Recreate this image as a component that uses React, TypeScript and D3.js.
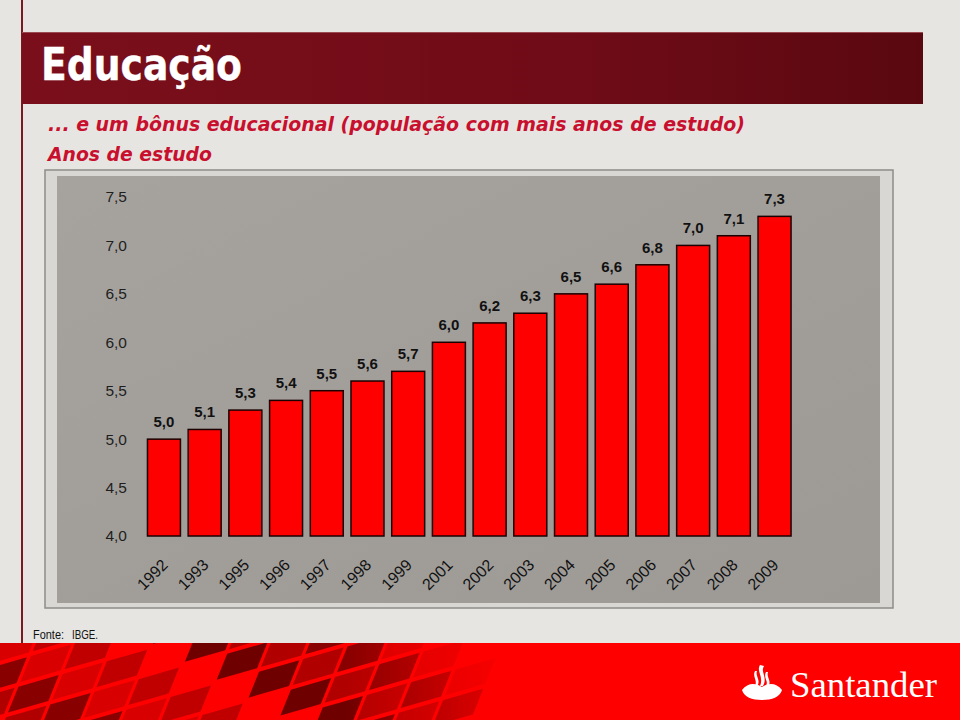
import React from "react";
import * as d3 from "d3";

const years = ["1992","1993","1995","1996","1997","1998","1999","2001","2002","2003","2004","2005","2006","2007","2008","2009"];
const values = [5.0,5.1,5.3,5.4,5.5,5.6,5.7,6.0,6.2,6.3,6.5,6.6,6.8,7.0,7.1,7.3];
const yTicks = [4.0,4.5,5.0,5.5,6.0,6.5,7.0,7.5];

const fmt = (v: number) => v.toFixed(1).replace(".", ",");

// decorative footer tile shades
const tileShades = ["#6e0000","#a00000","#c00000","#d80000","#880000","#b00000"];

export default function App() {
  const W = 960, H = 720;
  const x = d3.scaleBand<string>().domain(years).range([143.6, 794.9]).paddingInner(0.19).paddingOuter(0.095);
  const y = d3.scaleLinear().domain([4, 7.5]).range([536, 197]);

  const tiles: JSX.Element[] = [];
  for (let r = -2; r < 6; r++) {
    for (let c = -2; c < 14; c++) {
      const k = ((r * 7 + c * 5) % 6 + 6) % 6;
      if (((r * 3 + c * 2) % 5 + 5) % 5 === 0) continue;
      tiles.push(
        <rect key={`t${r}_${c}`} x={c * 46} y={r * 26} width={42} height={22} fill={tileShades[k]} />
      );
    }
  }

  return (
    <svg width={W} height={H} style={{ position: "absolute", left: 0, top: 0 }} fontFamily="Liberation Sans, Arial, sans-serif">
      <defs>
        <linearGradient id="bandG" x1="0" x2="1" y1="0" y2="0">
          <stop offset="0" stopColor="#7a0f1b" />
          <stop offset="0.6" stopColor="#700c17" />
          <stop offset="1" stopColor="#5a0810" />
        </linearGradient>
        <linearGradient id="panelG" x1="0" x2="1" y1="0" y2="1">
          <stop offset="0" stopColor="#a6a39f" />
          <stop offset="1" stopColor="#9d9a96" />
        </linearGradient>
        <linearGradient id="fadeG" x1="0" x2="1" y1="0" y2="0">
          <stop offset="0" stopColor="white" />
          <stop offset="0.36" stopColor="white" />
          <stop offset="0.5" stopColor="#555" />
          <stop offset="0.55" stopColor="black" />
          <stop offset="1" stopColor="black" />
        </linearGradient>
        <mask id="fadeM">
          <rect x={0} y={643} width={W} height={77} fill="url(#fadeG)" />
        </mask>
        <clipPath id="footClip">
          <rect x={0} y={643} width={W} height={77} />
        </clipPath>
      </defs>

      {/* page background */}
      <rect x={0} y={0} width={W} height={H} fill="#e7e5e2" />
      <line x1={22} x2={22} y1={0} y2={643} stroke="#7a1a1f" strokeWidth={2} />

      {/* title band */}
      <rect x={22} y={32} width={901} height={72} fill="url(#bandG)" />
      <line x1={22} x2={923} y1={32.5} y2={32.5} stroke="#9a4a50" strokeWidth={1} />
      <text x={41} y={80} fill="#ffffff" fontSize={44} fontWeight="bold" textLength={201} lengthAdjust="spacingAndGlyphs"
        fontFamily="DejaVu Sans, sans-serif" stroke="#ffffff" strokeWidth={0.4}>Educação</text>

      {/* subtitles */}
      <text x={48} y={131} fill="#c8102e" fontSize={19} fontWeight="bold" fontStyle="italic" textLength={697} lengthAdjust="spacingAndGlyphs"
        fontFamily="DejaVu Sans, sans-serif">... e um bônus educacional (população com mais anos de estudo)</text>
      <text x={48} y={161} fill="#c8102e" fontSize={19} fontWeight="bold" fontStyle="italic" textLength={164} lengthAdjust="spacingAndGlyphs"
        fontFamily="DejaVu Sans, sans-serif">Anos de estudo</text>

      {/* chart panel */}
      <rect x={45} y={170} width={848} height={438} fill="#d9d7d4" stroke="#8e8c89" strokeWidth={1.5} />
      <rect x={57} y={176} width={823} height={427} fill="url(#panelG)" />

      {/* y tick labels */}
      {yTicks.map((t) => (
        <text key={t} x={127} y={y(t)} dy="0.35em" textAnchor="end" fontSize={15.5} fill="#1e1e1e">{fmt(t)}</text>
      ))}

      {/* bars */}
      {years.map((yr, i) => (
        <rect key={yr} x={x(yr)!} y={y(values[i])} width={x.bandwidth()} height={y(4) - y(values[i])}
          fill="#ff0000" stroke="#1a0000" strokeWidth={1.5} />
      ))}

      {/* value labels */}
      {years.map((yr, i) => (
        <text key={"v" + yr} x={x(yr)! + x.bandwidth() / 2} y={y(values[i]) - 12} textAnchor="middle" fontSize={15}
          fontWeight="bold" fill="#111">{fmt(values[i])}</text>
      ))}

      {/* x labels */}
      {years.map((yr) => {
        const cx = x(yr)! + x.bandwidth() / 2 - 3;
        const cy = 558;
        return (
          <text key={"x" + yr} x={cx} y={cy} textAnchor="end" fontSize={16} fill="#111" dy="0.7em"
            transform={`rotate(-45 ${cx} ${cy})`}>{yr}</text>
        );
      })}

      {/* source */}
      <text x={33} y={639} fontSize={13} fill="#111" textLength={31} lengthAdjust="spacingAndGlyphs">Fonte:</text>
      <text x={72} y={639} fontSize={13} fill="#111" textLength={26} lengthAdjust="spacingAndGlyphs">IBGE.</text>

      {/* footer */}
      <rect x={0} y={643} width={W} height={77} fill="#ff0000" />
      <g clipPath="url(#footClip)">
        <g mask="url(#fadeM)">
          <g transform="translate(-70 712) rotate(-16) skewX(-38)">
            {tiles}
          </g>
        </g>
      </g>

      {/* Santander logo */}
      <g fill="#ffffff">
        <path d="M742,690 C748,682 756,683 762,687 C768,683 776,682 782,690 C780,697 772,700 762,700 C752,700 744,697 742,690 Z" />
        <path d="M760,665 C756,672 764,676 760,686 L763,686 C768,677 760,672 764,666 Z" />
        <path d="M755,671 C752,677 758,680 755,686 L757.5,686 C761,680 755,676 757,671 Z" />
        <path d="M766,672 C763,678 769,681 766,686 L768.5,686 C772,681 766,677 768,672 Z" />
      </g>
      <text x={790} y={697} fill="#ffffff" fontSize={35} fontFamily="Liberation Serif, serif" textLength={147} lengthAdjust="spacingAndGlyphs">Santander</text>
    </svg>
  );
}
